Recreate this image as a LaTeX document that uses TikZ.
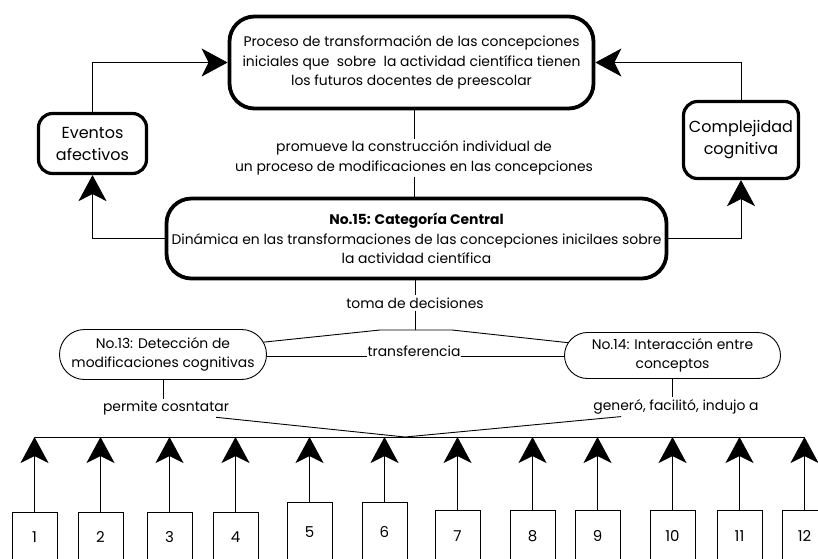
\documentclass[tikz,border=0pt]{standalone}
\usepackage{fontspec}
\setmainfont{Poppins}
\usetikzlibrary{arrows.meta,shapes.misc}

\begin{document}
\begin{tikzpicture}[x=1pt,y=-1pt,
  bigbox/.style={draw,line width=3.8pt,rounded corners=25pt,align=center,font=\fontsize{13.9}{19.5}\selectfont},
  sidebox/.style={draw,line width=3.2pt,rounded corners=14pt,align=center,font=\fontsize{16}{22}\selectfont},
  catbox/.style={draw,line width=0.9pt,rounded rectangle,align=center,inner sep=1pt,font=\fontsize{13.9}{19}\selectfont},
  numbox/.style={draw,line width=0.9pt,minimum width=45pt,font=\fontsize{15}{18}\selectfont},
  lbl/.style={align=center,inner sep=2pt,font=\fontsize{13.9}{20}\selectfont},
  link/.style={line width=0.9pt},
  tip/.style={line width=0.9pt,-{Stealth[length=26pt,width=28pt,inset=7pt]}}]
\useasboundingbox (0,0) rectangle (818,558);
\clip (0,0) rectangle (818,558);
% upper part
\node[bigbox,minimum width=364pt,minimum height=92pt] (proc) at (411.5,62.5)
  {Proceso de transformación de las concepciones\\iniciales que\ \ sobre\ \ la actividad científica tienen\\los futuros docentes de preescolar};
\node[sidebox,minimum width=108pt,minimum height=60pt] (evt) at (92.5,143.5) {Eventos\\afectivos};
\node[sidebox,minimum width=115pt,minimum height=77pt] (cpx) at (741,140) {Complejidad\\cognitiva};
\node[lbl] (prom) at (414,158) {promueve la construcción individual de\\un proceso de modificaciones en las concepciones};
\node[bigbox,minimum width=500pt,minimum height=80pt] (cen) at (416.5,238.5)
  {\textbf{No.15: Categoría Central}\\Dinámica en las transformaciones de las concepciones inicilaes sobre\\la actividad científica};
\draw[tip] (evt.north) |- (proc.west);
\draw[tip] (cpx.north) |- (proc.east);
\draw[tip] (cen.west) -| (evt.south);
\draw[tip] (cen.east) -| (cpx.south);
\draw[link] (prom.north |- proc.south) -- (prom.north);
\draw[link] (prom.south) -- (prom.south |- cen.north);
% middle part
\node[lbl] (toma) at (415,303) {toma de decisiones};
\node[catbox,minimum width=209pt,minimum height=50pt] (n13) at (163,354.5) {No.13: Detección de\\modificaciones cognitivas};
\node[catbox,minimum width=218pt,minimum height=46pt] (n14) at (672.5,355.5) {No.14: Interacción entre\\conceptos};
\node[lbl,inner sep=0pt,anchor=base] (trf) at (414,356) {transferencia};
\coordinate (jt) at (415,330);
\coordinate (jl) at (380,330);
\coordinate (jr) at (452,330);
\draw[link] (toma.north |- cen.south) -- (toma.north);
\draw[link] (toma.south) -- (jt);
\draw[link] (n13.7) -- (jl) -- (jr) -- (n14.173);
\draw[link] (n13.east |- trf.base west) -- (trf.base west);
\draw[link] (trf.base east) -- (n14.west |- trf.base east);
\node[lbl] (perm) at (166,408) {permite cosntatar};
\node[lbl] (gen) at (676,407) {generó, facilitó, indujo a};
\draw[link] (n13.south) -- (n13.south |- perm.north);
\draw[link] (n14.south) -- (n14.south |- gen.north);
% lower part
\coordinate (bl) at (34.5,437);
\coordinate (jb) at (405,437);
\foreach \n/\x/\y/\h in {1/34.5/537/50,2/100.5/537/50,3/169.5/537/50,4/235.5/537/50,
  5/309.5/532/60,6/384.5/532/60,7/457.5/536/52,8/532.5/536/52,9/597.5/536/52,
  10/672.5/536/52,11/739.5/536/52,12/804.5/536/52}
  \node[numbox,minimum height=\h pt] (b\n) at (\x,\y) {\n};
\draw[link] (b1.north |- bl) -- (b12.north |- bl);
\draw[link] ([xshift=-15pt]perm.south east) -- (jb) -- ([xshift=30pt]gen.south west);
\foreach \n in {1,...,12}
  \draw[tip] (b\n.north) -- (b\n.north |- bl);
\end{tikzpicture}
\end{document}
